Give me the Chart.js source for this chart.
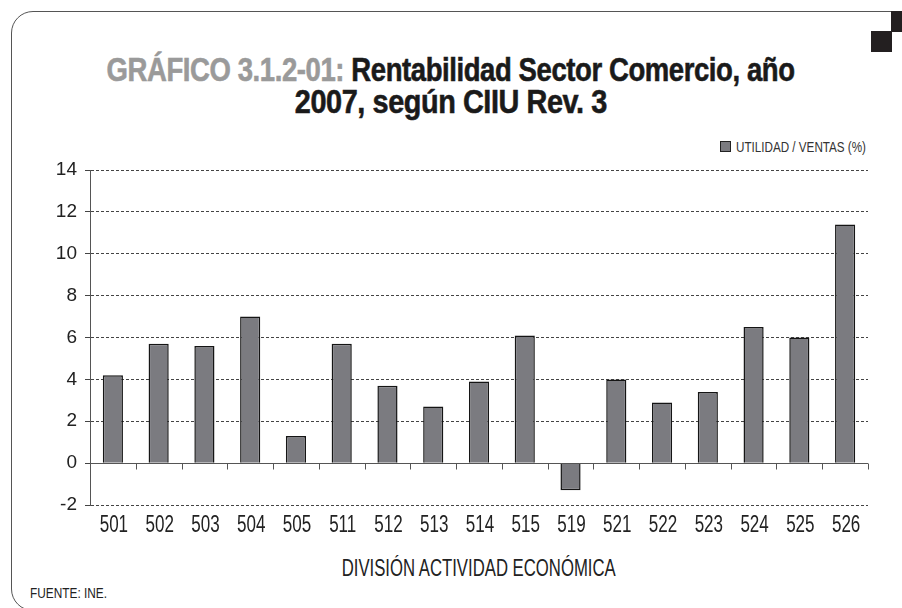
<!DOCTYPE html>
<html>
<head>
<meta charset="utf-8">
<script src="https://cdn.jsdelivr.net/npm/chart.js@4.4.0/dist/chart.umd.min.js"></script>
<style>
  html, body { margin:0; padding:0; background:#fff; }
  body { width:902px; height:608px; position:relative; overflow:hidden; }
  #frame { position:absolute; left:11px; top:11px; width:1000px; height:600px; border:1.5px solid #555; border-radius:22px 0 0 22px; box-sizing:border-box; }
  .sq { position:absolute; background:#231f20; }
  .fitline { position:absolute; left:0; width:902px; text-align:center; white-space:nowrap; }
  .fit { display:inline-block; white-space:nowrap; transform-origin:center center; }
  .ttl { font-family:"Liberation Sans",Arial,sans-serif; font-weight:bold; font-size:34px; line-height:34px; color:#1a1a1a; letter-spacing:-0.5px; -webkit-text-stroke:0.6px currentColor; }
  .ttl .g { color:#9a9a9a; }
  #legend { position:absolute; left:720px; top:139px; white-space:nowrap; font-family:"Liberation Sans",Arial,sans-serif; font-size:15px; line-height:16px; color:#333; }
  #legend .box { position:absolute; left:0; top:2px; width:9px; height:9px; background:#7b7b80; border:1px solid #222; }
  #legtext { position:absolute; left:16px; top:0; transform-origin:left center; }
  #xtitle { font-family:"Liberation Sans",Arial,sans-serif; font-size:24px; line-height:26px; color:#222; }
  #src { position:absolute; left:30px; top:585px; font-family:"Liberation Sans",Arial,sans-serif; font-size:14px; color:#222; transform-origin:left center; white-space:nowrap; }
  canvas { position:absolute; left:0; top:0; }
</style>
</head>
<body>
<div id="frame"></div>
<div class="sq" style="left:891px;top:11px;width:11px;height:21px;"></div>
<div class="sq" style="left:871px;top:31px;width:21px;height:21px;"></div>
<div class="fitline ttl" style="top:52px;"><span class="fit" id="t1"><span class="g">GRÁFICO 3.1.2-01:</span> Rentabilidad Sector Comercio, año</span></div>
<div class="fitline ttl" style="top:84px;"><span class="fit" id="t2">2007, según CIIU Rev. 3</span></div>
<div id="legend"><span class="box"></span><span id="legtext"></span></div>
<div class="fitline" style="left:90px;width:778px;top:555px;"><span class="fit" id="xtitle"></span></div>
<div id="src">FUENTE: INE.</div>
<canvas id="c" width="902" height="608"></canvas>
<script>
const categories = ["501","502","503","504","505","511","512","513","514","515","519","521","522","523","524","525","526"];
const utilidadVentas = [4.2, 5.7, 5.6, 7.0, 1.3, 5.7, 3.7, 2.7, 3.9, 6.1, -1.3, 4.0, 2.9, 3.4, 6.5, 6.0, 11.4];
const seriesLabel = "UTILIDAD / VENTAS (%)";
const xAxisTitle = "DIVISIÓN ACTIVIDAD ECONÓMICA";
const yTicks = [-2, 0, 2, 4, 6, 8, 10, 12, 14];

document.getElementById('legtext').textContent = seriesLabel;
document.getElementById('xtitle').textContent = xAxisTitle;

function fitWidth(el, target) {
  const w = el.getBoundingClientRect().width;
  if (w > 0) el.style.transform = 'scaleX(' + (target / w) + ')';
}
fitWidth(document.getElementById('t1'), 688);
fitWidth(document.getElementById('t2'), 312);
fitWidth(document.getElementById('legtext'), 130);
fitWidth(document.getElementById('xtitle'), 274);
fitWidth(document.getElementById('src'), 77);

const zeroAxis = {
  id: 'zeroAxis',
  afterDatasetsDraw(chart) {
    const {ctx, chartArea, scales} = chart;
    const x = scales.x, y = scales.y;
    const y0 = Math.round(y.getPixelForValue(0)) + 0.5;
    ctx.save();
    ctx.strokeStyle = '#555';
    ctx.lineWidth = 1;
    ctx.beginPath();
    ctx.moveTo(chartArea.left, y0);
    ctx.lineTo(chartArea.right, y0);
    const n = categories.length;
    for (let i = 1; i <= n; i++) {
      let px = (i < n) ? (x.getPixelForValue(i - 1) + x.getPixelForValue(i)) / 2 : chartArea.right;
      px = Math.round(px) + 0.5;
      ctx.moveTo(px, y0);
      ctx.lineTo(px, y0 + 6);
    }
    ctx.stroke();
    ctx.restore();
  }
};

// x-axis category labels, drawn at the x scale's tick positions in a condensed face
const condensedXLabels = {
  id: 'condensedXLabels',
  afterDraw(chart) {
    const {ctx, chartArea, scales} = chart;
    const x = scales.x;
    ctx.save();
    ctx.fillStyle = '#222';
    ctx.font = '23px "Liberation Sans", Arial, sans-serif';
    ctx.textAlign = 'center';
    ctx.textBaseline = 'alphabetic';
    x.ticks.forEach((t, i) => {
      const px = x.getPixelForTick(i);
      const label = x.getLabelForValue(t.value);
      ctx.save();
      ctx.translate(px + 1, chartArea.bottom + 27);
      ctx.scale(0.74, 1);
      ctx.fillText(label, 0, 0);
      ctx.restore();
    });
    ctx.restore();
  }
};

new Chart(document.getElementById('c'), {
  type: 'bar',
  data: {
    labels: categories,
    datasets: [{
      label: seriesLabel,
      data: utilidadVentas,
      backgroundColor: '#7b7b80',
      borderColor: '#151515',
      borderWidth: 1.5,
      barPercentage: 0.44,
      categoryPercentage: 1.0
    }]
  },
  options: {
    responsive: false,
    animation: false,
    devicePixelRatio: 1,
    layout: { padding: { top: 170, right: 34, bottom: 63, left: 0 } },
    plugins: { legend: { display: false }, title: { display: false }, tooltip: { enabled: false } },
    scales: {
      x: {
        offset: true,
        grid: { display: false, drawTicks: false },
        border: { display: false },
        ticks: { display: false, autoSkip: false },
        afterFit(scale) { scale.height = 40; }
      },
      y: {
        min: -2, max: 14,
        afterBuildTicks(scale) { scale.ticks = yTicks.map(v => ({ value: v })); },
        grid: { color: '#444', lineWidth: 1, tickLength: 5, drawTicks: true, tickColor: '#444' },
        border: { display: true, color: '#555', width: 1, dash: [3, 2] },
        ticks: { color: '#222', font: { family: '"Liberation Sans",Arial,sans-serif', size: 19 }, padding: 8 },
        afterFit(scale) { scale.width = 90; }
      }
    }
  },
  plugins: [zeroAxis, condensedXLabels]
});
</script>
</body>
</html>
